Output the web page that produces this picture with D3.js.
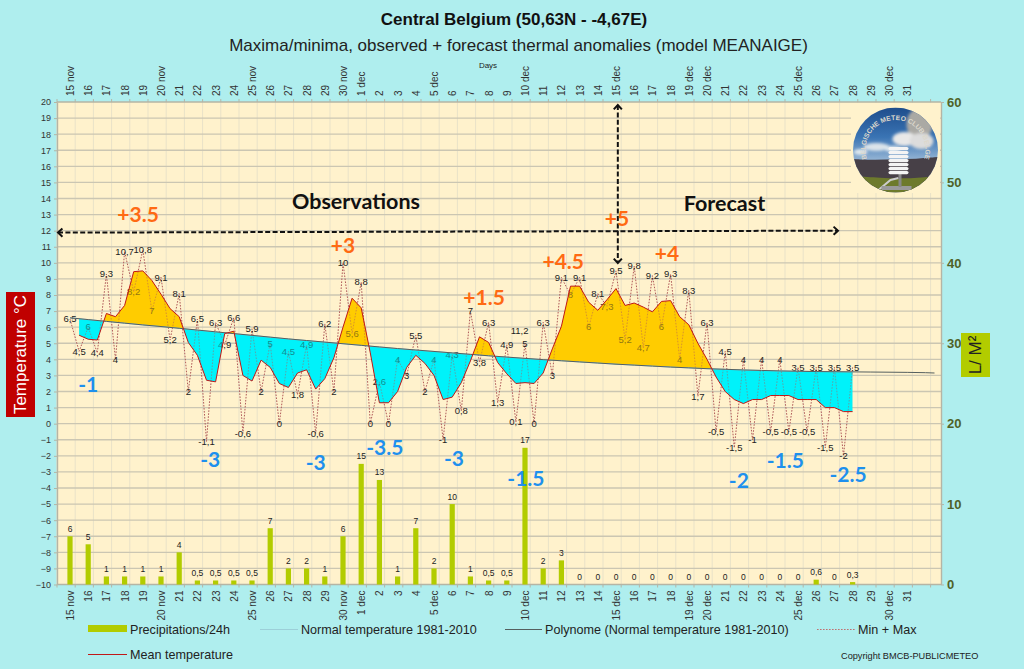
<!DOCTYPE html>
<html><head><meta charset="utf-8">
<script src="https://cdn.jsdelivr.net/npm/d3@7/dist/d3.min.js"></script>
<style>html,body{margin:0;padding:0;background:#afeeee;overflow:hidden}svg{display:block;font-family:"Liberation Sans",Arial,sans-serif}</style>
</head><body><svg id="c" width="1024" height="669"></svg>
<script>
const dayLabels=["15 nov","16","17","18","19","20 nov","21","22","23","24","25 nov","26","27","28","29","30 nov","1 dec","2","3","4","5 dec","6","7","8","9","10 dec","11","12","13","14","15 dec","16","17","18","19 dec","20 dec","21","22","23","24","25 dec","26","27","28","29","30 dec","31"];
const maxTemps=[6.5,6,9.3,10.7,10.8,9.1,8.1,6.5,6.3,6.6,5.9,5,4.5,4.9,6.2,10,8.8,2.6,4,5.5,4,4.3,7,6.3,4.9,5,6.3,9.1,9.1,8.1,9.5,9.8,9.2,9.3,8.3,6.3,4.5,4,4,4,3.5,3.5,3.5,3.5];
const minTemps=[4.5,4.4,4,8.2,7,5.2,2,-1.1,4.9,-0.6,2,0,1.8,-0.6,2,5.6,0,0,3,2,-1,0.8,3.8,1.3,0.1,0,3,8,6,7.3,5.2,4.7,6,4,1.7,-0.5,-1.5,-1,-0.5,-0.5,-0.5,-1.5,-2];
const meanTemps=[5.5,5.25,5.2,6.85,6.65,7.35,9.45,9.5,8.9,8.05,7.15,6.65,5.05,4.25,2.7,2.6,5.6,5.75,3,2.65,3.95,3.5,2.5,2.25,3.15,3.35,2.15,2.8,4.1,6,7.8,7.2,4.4,1.3,1.3,2,3.5,4.25,3.75,3,1.5,1.65,2.55,3.9,5.4,5.05,3.8,3.1,2.5,2.55,2.5,3.15,4.65,6.05,8.55,8.55,7.55,7.05,7.7,8.4,7.35,7.5,7.25,6.95,7.6,7.65,6.65,6.15,5,4,2.9,2,1.5,1.25,1.5,1.5,1.75,1.75,1.75,1.5,1.5,1.5,1,1,0.75,0.75];
const normalTemps=[6.58,6.47,6.36,6.25,6.14,6.04,5.93,5.82,5.71,5.6,5.49,5.38,5.27,5.17,5.07,4.97,4.87,4.77,4.67,4.58,4.49,4.4,4.31,4.22,4.14,4.06,3.98,3.91,3.84,3.77,3.7,3.64,3.58,3.52,3.47,3.42,3.38,3.34,3.31,3.28,3.26,3.24,3.23,3.22,3.21,3.2,3.19,3.17,3.15];
const precip=[6,5,1,1,1,1,4,0.5,0.5,0.5,0.5,7,2,2,1,6,15,13,1,7,2,10,1,0.5,0.5,17,2,3,0,0,0,0,0,0,0,0,0,0,0,0,0,0.6,0,0.3];
const anomalyTexts=["+3.5","+3","+1.5","+4.5","+5","+4","-1","-3","-3","-3.5","-3","-1.5","-2","-1.5","-2.5"];
const anomalyDays=[3.74,15,22.75,27.1,30.05,32.8,1,7.7,13.5,17.3,21.1,25.05,36.75,39.3,42.75];
const anomalyTemps=[12.98,11.05,7.85,10.1,12.73,10.55,2.4,-2.25,-2.45,-1.5,-2.2,-3.4,-3.55,-2.3,-3.2];

const svg=d3.select("#c");
const L=57,R=941,T=102,B=584.5;
const x=d3.scaleLinear().domain([0,46]).range([70,907.2]);
const y=d3.scaleLinear().domain([-10,20]).range([B,T]);
const yR=d3.scaleLinear().domain([0,60]).range([B,T]);
const comma=v=>String(v).replace(".",",");
const normalAt=d3.scaleLinear().domain(normalTemps.map((_,i)=>i)).range(normalTemps);

svg.append("rect").attr("width",1024).attr("height",669).attr("fill","#afeeee");
svg.append("rect").attr("x",L).attr("y",T).attr("width",R-L).attr("height",B-T).attr("fill","#fff2cc");

// grid
const gridDays=d3.range(0,49).map(k=>k-13/18.2);
svg.append("g").selectAll("line").data(gridDays).join("line")
 .attr("x1",d=>x(d)).attr("x2",d=>x(d)).attr("y1",T).attr("y2",B).attr("stroke","#e9e2c8").attr("stroke-width",1);
svg.append("g").selectAll("line").data(d3.range(-9,20)).join("line")
 .attr("x1",L).attr("x2",R).attr("y1",d=>y(d)).attr("y2",d=>y(d)).attr("stroke","#cbc6b2").attr("stroke-width",1.4);
// logo backing patch
svg.append("rect").attr("x",851).attr("y",T+1).attr("width",R-851-1).attr("height",90).attr("fill","#fff2cc");

// axes
const styleAxis=(g,size,color,weight)=>{g.select(".domain").attr("stroke","#b5b5a5").attr("stroke-width",1.4);
 g.selectAll(".tick line").attr("stroke","#b5b5a5");
 g.selectAll("text").attr("font-size",size).attr("fill",color).attr("font-weight",weight||"normal").attr("font-family",'"Liberation Sans",sans-serif');};
svg.append("g").attr("transform",`translate(${L},0)`).call(d3.axisLeft(y).tickValues(d3.range(-10,21)).tickSize(3).tickPadding(3).tickFormat(d3.format("d")).tickSizeOuter(0)).call(g=>styleAxis(g,9,"#333"));
svg.append("g").attr("transform",`translate(${R},0)`).call(d3.axisRight(yR).tickValues(d3.range(0,61,10)).tickSize(3).tickPadding(3).tickFormat(d3.format("d")).tickSizeOuter(0)).call(g=>styleAxis(g,13,"#4f6228","bold"));
const dayIdx=dayLabels.map((_,i)=>i);
const topAxis=svg.append("g").attr("transform",`translate(0,${T})`).call(d3.axisTop(x).tickValues(dayIdx).tickSize(0).tickFormat(i=>dayLabels[i]));
styleAxis(topAxis,10,"#333");topAxis.select(".domain").remove();
topAxis.selectAll("text").attr("transform","rotate(-90)").attr("text-anchor","start").attr("x",6).attr("y",0).attr("dy","0.35em");
const botAxis=svg.append("g").attr("transform",`translate(0,${B})`).call(d3.axisBottom(x).tickValues(dayIdx).tickSize(0).tickFormat(i=>dayLabels[i]));
styleAxis(botAxis,10,"#333");botAxis.select(".domain").remove();
botAxis.selectAll("text").attr("transform","rotate(-90)").attr("text-anchor","end").attr("x",-6).attr("y",0).attr("dy","0.35em");
svg.append("g").selectAll("line").data(gridDays).join("line").attr("x1",d=>x(d)).attr("x2",d=>x(d)).attr("y1",T-3).attr("y2",T).attr("stroke","#b5b5a5");
svg.append("g").selectAll("line").data(gridDays).join("line").attr("x1",d=>x(d)).attr("x2",d=>x(d)).attr("y1",B).attr("y2",B+3).attr("stroke","#b5b5a5");
svg.append("line").attr("x1",L).attr("x2",R).attr("y1",T).attr("y2",T).attr("stroke","#b5b5a5").attr("stroke-width",1.4);
svg.append("line").attr("x1",L).attr("x2",R).attr("y1",B).attr("y2",B).attr("stroke","#b5b5a5").attr("stroke-width",1.4);

// bars
svg.append("g").selectAll("rect").data(precip).join("rect")
 .attr("x",(d,i)=>x(i)-2.6).attr("width",5.2).attr("y",d=>yR(d)).attr("height",d=>yR(0)-yR(d)).attr("fill","#b2cc00");
svg.append("g").selectAll("text").data(precip).join("text")
 .attr("x",(d,i)=>x(i)).attr("y",d=>yR(d)-4.5).attr("text-anchor","middle").attr("font-size",8.5).attr("fill","#222").text(comma);

// anomaly fill
const meanPts=meanTemps.map((v,i)=>({d:(i+1)/2,v}));
const defs=svg.append("defs");
const nPts=meanPts.map(p=>p.d);
defs.append("clipPath").attr("id","above").append("path").attr("d",d3.area().x(d=>x(d)).y0(T).y1(d=>y(normalAt(d)))(nPts));
defs.append("clipPath").attr("id","below").append("path").attr("d",d3.area().x(d=>x(d)).y0(B).y1(d=>y(normalAt(d)))(nPts));
const band=d3.area().x(p=>x(p.d)).y0(p=>y(normalAt(p.d))).y1(p=>y(p.v));
const drawFill=(op)=>{
 svg.append("path").attr("d",band(meanPts)).attr("fill","#ffcc00").attr("opacity",op).attr("clip-path","url(#above)");
 svg.append("path").attr("d",band(meanPts)).attr("fill","#00f2fa").attr("opacity",op).attr("clip-path","url(#below)");
};
drawFill(1);

// min + max zig-zag
const zig=[];maxTemps.forEach((v,i)=>{zig.push({d:i,v});if(i<minTemps.length)zig.push({d:i+0.5,v:minTemps[i]});});
const ln=d3.line().x(p=>x(p.d)).y(p=>y(p.v));
svg.append("path").attr("d",ln(zig)).attr("fill","none").attr("stroke","#b05a5a").attr("stroke-width",1).attr("stroke-dasharray","1.6,1.4");
svg.append("g").selectAll("text").data(zig).join("text")
 .attr("x",p=>x(p.d)).attr("y",p=>y(p.v)).attr("dy","0.35em").attr("text-anchor","middle").attr("font-size",9.5).attr("fill","#222").text(p=>comma(p.v));
svg.append("text").attr("x",x(24.7)).attr("y",y(5.8)).attr("dy","0.35em").attr("text-anchor","middle").attr("font-size",9.5).attr("fill","#222").text("11,2");
drawFill(0.5);

// normals + mean
svg.append("path").attr("d",d3.line().x((d,i)=>x(i)).y(d=>y(d))(normalTemps.slice(0,44))).attr("fill","none").attr("stroke","#9ccfd8").attr("stroke-width",1);
svg.append("path").attr("d",d3.line().x((d,i)=>x(Math.min(i,47.5))).y(d=>y(d))(normalTemps)).attr("fill","none").attr("stroke","#555f5f").attr("stroke-width",1);
svg.append("path").attr("d",ln(meanPts)).attr("fill","none").attr("stroke","#c01818").attr("stroke-width",1);

// arrows
const arrow=(x1,y1,x2,y2)=>{
 svg.append("line").attr("x1",x1).attr("y1",y1).attr("x2",x2).attr("y2",y2).attr("stroke","#111").attr("stroke-width",2).attr("stroke-dasharray","5,2.4");
 const a=Math.atan2(y2-y1,x2-x1),s=6;
 [[x1,y1,a+Math.PI],[x2,y2,a]].forEach(([px,py,t])=>{
  const p=d3.path();p.moveTo(px+s*Math.cos(t+2.4),py+s*Math.sin(t+2.4));p.lineTo(px,py);p.lineTo(px+s*Math.cos(t-2.4),py+s*Math.sin(t-2.4));
  svg.append("path").attr("d",p.toString()).attr("fill","none").attr("stroke","#111").attr("stroke-width",2);
 });
};
arrow(L+1,y(11.88),838,y(12));
arrow(x(30.1),T+3,x(30.1),263);

// notes
const big=(t,cx,cy,size,col)=>svg.append("text").attr("x",cx).attr("y",cy).attr("dy","0.35em").attr("text-anchor","middle").attr("font-family","Lato,sans-serif").attr("font-weight","bold").attr("font-size",size).attr("fill",col).text(t);
anomalyTexts.forEach((t,i)=>big(t,x(anomalyDays[i]),y(anomalyTemps[i]),21,t[0]==="+"?"#ff6a13":"#1e90ee"));
big("Observations",356,201,21.5,"#111");
big("Forecast",724.5,203,21.5,"#111");

// titles
svg.append("text").attr("x",514).attr("y",25).attr("text-anchor","middle").attr("font-weight","bold").attr("font-size",17).attr("fill","#111").text("Central Belgium (50,63N - -4,67E)");
svg.append("text").attr("x",518.5).attr("y",51).attr("text-anchor","middle").attr("font-size",17).attr("fill","#222").text("Maxima/minima, observed + forecast thermal anomalies (model MEANAIGE)");
svg.append("text").attr("x",488).attr("y",68).attr("text-anchor","middle").attr("font-size",8).attr("fill","#222").text("Days");

// side labels
svg.append("rect").attr("x",6).attr("y",292).attr("width",29).attr("height",125).attr("fill","#c00000");
svg.append("text").attr("transform","translate(20.5,354.5) rotate(-90)").attr("text-anchor","middle").attr("dy","0.35em").attr("font-size",17).attr("fill","#fff").text("Temperature °C");
svg.append("rect").attr("x",961).attr("y",333).attr("width",29).attr("height",44).attr("fill","#b2cc00");
svg.append("text").attr("transform","translate(975.5,355) rotate(-90)").attr("text-anchor","middle").attr("dy","0.35em").attr("font-size",17).attr("fill","#222").text("L/ M²");

// legend
const lg=svg.append("g");
const lgText=(t,tx,ty)=>lg.append("text").attr("x",tx).attr("y",ty).attr("font-size",12.6).attr("fill","#222").text(t);
lg.append("rect").attr("x",88).attr("y",625).attr("width",39).attr("height",7).attr("fill","#b2cc00");
lgText("Precipitations/24h",130,633.5);
lg.append("line").attr("x1",260).attr("x2",298).attr("y1",629.5).attr("y2",629.5).attr("stroke","#9ccfd8").attr("stroke-width",1);
lgText("Normal temperature 1981-2010",301,633.5);
lg.append("line").attr("x1",505).attr("x2",542).attr("y1",629.5).attr("y2",629.5).attr("stroke","#555f5f").attr("stroke-width",1);
lgText("Polynome (Normal temperature 1981-2010)",545,633.5);
lg.append("line").attr("x1",817).attr("x2",855).attr("y1",629.5).attr("y2",629.5).attr("stroke","#c07070").attr("stroke-width",1).attr("stroke-dasharray","1.6,1.4");
lgText("Min + Max",858,633.5);
lg.append("line").attr("x1",88).attr("x2",127).attr("y1",654.5).attr("y2",654.5).attr("stroke","#c01818").attr("stroke-width",1);
lgText("Mean temperature",130,659);
svg.append("text").attr("x",841).attr("y",659).attr("font-size",9.2).attr("fill","#222").text("Copyright BMCB-PUBLICMETEO");

// logo badge
const cx=895.5,cy=150,r=42.5;
const lgd=defs.append("linearGradient").attr("id","sky").attr("x1",0).attr("y1",0).attr("x2",0).attr("y2",1);
[[0,"#1e4d8c"],[0.35,"#3a74b4"],[0.6,"#8eb0d2"]].forEach(([o,c])=>lgd.append("stop").attr("offset",o).attr("stop-color",c));
defs.append("clipPath").attr("id","badge").append("circle").attr("cx",cx).attr("cy",cy).attr("r",r);
defs.append("filter").attr("id","soft").append("feGaussianBlur").attr("stdDeviation",1.6);
const b=svg.append("g").attr("clip-path","url(#badge)");
b.append("rect").attr("x",cx-r).attr("y",cy-r).attr("width",2*r).attr("height",2*r).attr("fill","url(#sky)");
const clouds=b.append("g").attr("filter","url(#soft)");
[[cx+24,cy-26,13,16,"#aaa9a4"],[cx+9,cy-11,12,7,"#e8e8e8"],[cx+26,cy-9,12,8,"#dcdcdc"],[cx-19,cy-3,13,4,"#dbe4ea"],[cx-3,cy-1,8,3,"#dfe8ee"],[cx-35,cy+2,7,3,"#dfe8ee"]].forEach(([a,e,rx,ry,c])=>clouds.append("ellipse").attr("cx",a).attr("cy",e).attr("rx",rx).attr("ry",ry).attr("fill",c));
b.append("path").attr("d",d3.area().x(d=>d[0]).y0(cy+r).y1(d=>d[1]).curve(d3.curveBasis)([[cx-r,cy+9],[cx-20,cy+10],[cx,cy+9],[cx+20,cy+9],[cx+r,cy+7]])).attr("fill","#474047");
b.append("path").attr("d",d3.area().x(d=>d[0]).y0(cy+r).y1(d=>d[1]).curve(d3.curveBasis)([[cx-r,cy+26],[cx-15,cy+28],[cx+10,cy+29],[cx+r,cy+26]])).attr("fill","#6d7a2c");
b.append("path").attr("d",`M${cx-17},${cy+40}L${cx-5},${cy+30}L${cx+3},${cy+28}`).attr("fill","none").attr("stroke","#ccc").attr("stroke-width",2);
b.append("rect").attr("x",cx-14).attr("y",cy+36).attr("width",30).attr("height",4).attr("fill","#9a9a9a");
b.append("rect").attr("x",cx+3).attr("y",cy+24).attr("width",3).attr("height",13).attr("fill","#888");
d3.range(0,7).forEach(i=>b.append("rect").attr("x",cx-7).attr("y",cy-3+i*4).attr("width",20).attr("height",3.2).attr("rx",1.6).attr("fill","#f4f4f4"));
const aR=30,ax=25,ay=16.6;
defs.append("path").attr("id","arc").attr("d",`M${cx-ax},${cy+ay} A${aR},${aR} 0 1 1 ${cx+ax},${cy+ay}`);
svg.append("text").attr("font-size",6.8).attr("font-weight","bold").attr("fill","#dcd8cc").append("textPath").attr("href","#arc").attr("startOffset","50%").attr("text-anchor","middle").text("BELGISCHE METEO CLUB BELGE");
</script></body></html>
